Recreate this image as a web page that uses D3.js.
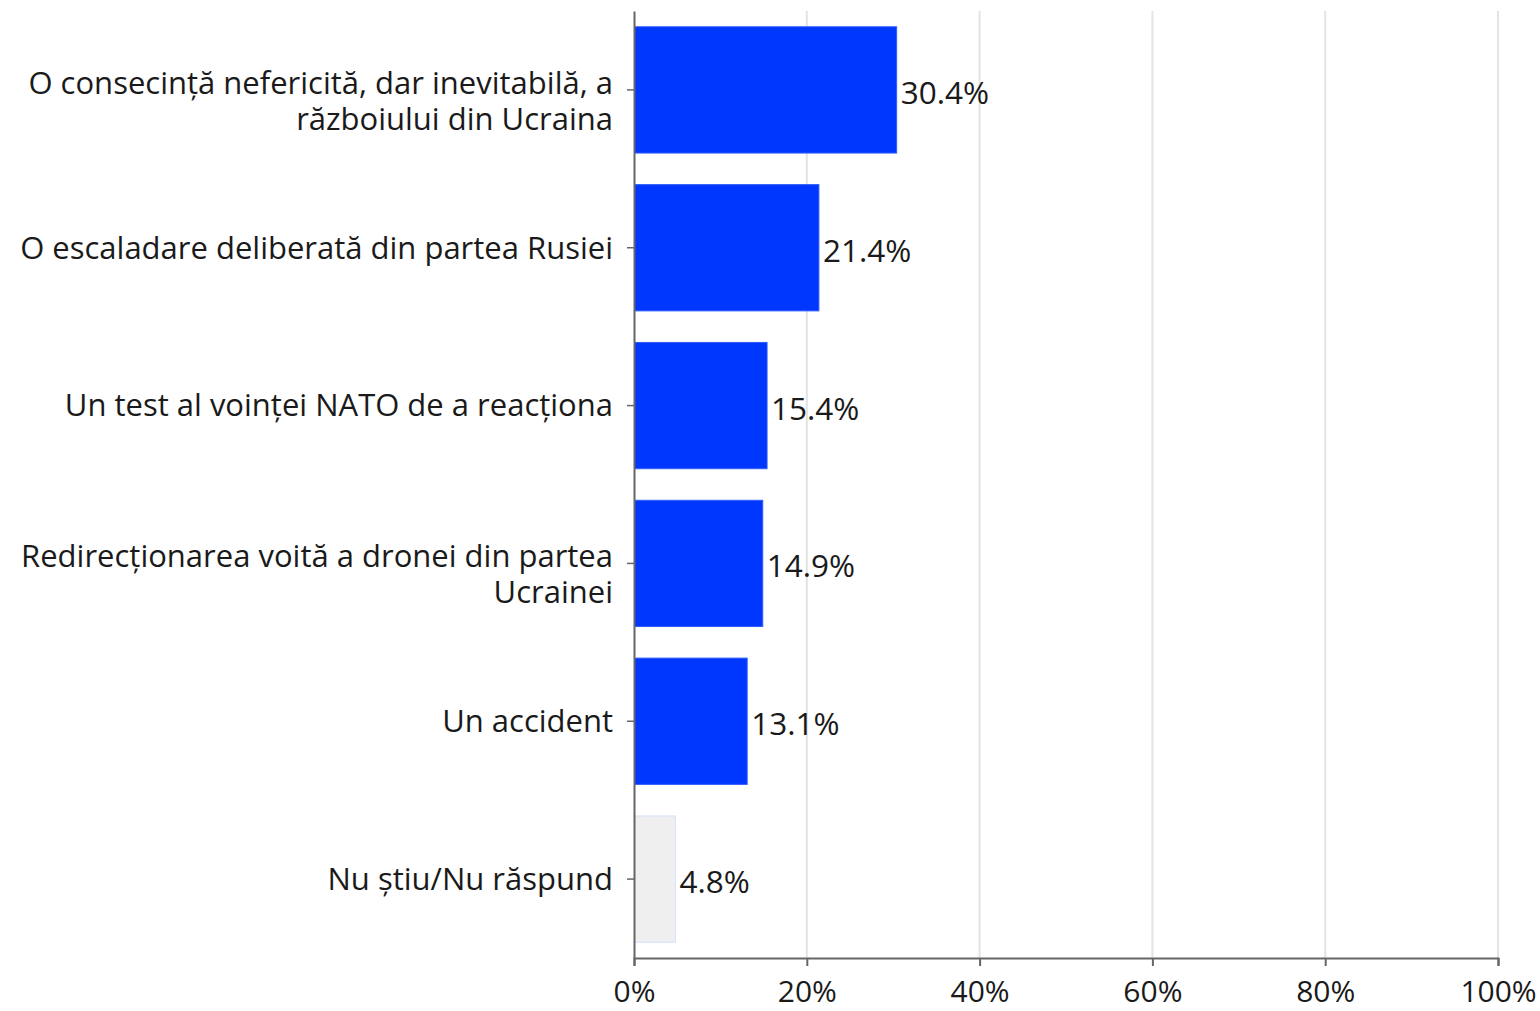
<!DOCTYPE html>
<html>
<head>
<meta charset="utf-8">
<script src="https://cdn.jsdelivr.net/npm/d3@7"></script>
<style>
  html, body { margin: 0; padding: 0; background: #ffffff; }
  svg { display: block; font-family: "Open Sans", sans-serif; }
</style>
</head>
<body>
<svg id="chart" width="1540" height="1011"></svg>
<script>
const categories = [
  ["O consecință nefericită, dar inevitabilă, a", "războiului din Ucraina"],
  ["O escaladare deliberată din partea Rusiei"],
  ["Un test al voinței NATO de a reacționa"],
  ["Redirecționarea voită a dronei din partea", "Ucrainei"],
  ["Un accident"],
  ["Nu știu/Nu răspund"]
];
const values = [30.4, 21.4, 15.4, 14.9, 13.1, 4.8];
const valueLabels = ["30.4%", "21.4%", "15.4%", "14.9%", "13.1%", "4.8%"];
const xTicks = [0, 20, 40, 60, 80, 100];
const xTickLabels = ["0%", "20%", "40%", "60%", "80%", "100%"];
const barColors = ["#0037ff", "#0037ff", "#0037ff", "#0037ff", "#0037ff", "#efefef"];
const barStrokes = ["#2f5cff", "#2f5cff", "#2f5cff", "#2f5cff", "#2f5cff", "#d6e0ff"];

const svg = d3.select("#chart");
const margin = { left: 634, right: 42, top: 11, bottom: 53 };
const W = 1540, H = 1011;
const innerW = W - margin.left - margin.right;
const innerH = H - margin.top - margin.bottom;
const FS = 31;

const idx = d3.range(categories.length);
const x = d3.scaleLinear().domain([0, 100]).range([0, innerW]);
const y = d3.scaleBand().domain(idx).range([0, innerH]).paddingInner(0.2).paddingOuter(0.1);

const g = svg.append("g").attr("transform", `translate(${margin.left},${margin.top})`);

// gridlines
g.append("g").selectAll("line").data(xTicks.slice(1)).join("line")
  .attr("x1", d => x(d)).attr("x2", d => x(d))
  .attr("y1", 0).attr("y2", innerH)
  .attr("stroke", "#e3e3e3").attr("stroke-width", 2);

// bars
g.append("g").selectAll("rect").data(idx).join("rect")
  .attr("x", 0.5)
  .attr("y", i => y(i))
  .attr("width", i => x(values[i]) - 0.5)
  .attr("height", y.bandwidth())
  .attr("fill", i => barColors[i])
  .attr("stroke", i => barStrokes[i])
  .attr("stroke-width", 1);

// value labels
g.append("g").selectAll("text").data(idx).join("text")
  .attr("x", i => x(values[i]) + 4)
  .attr("y", i => y(i) + y.bandwidth() / 2 + 3)
  .attr("dy", "0.35em")
  .attr("font-size", 31.5)
  .attr("fill", "#1a1a1a")
  .text(i => valueLabels[i]);

// x axis
const xAxis = d3.axisBottom(x).tickValues(xTicks).tickFormat((d, i) => xTickLabels[i]).tickSize(8).tickSizeOuter(8);
const xg = g.append("g").attr("transform", `translate(0,${innerH})`).call(xAxis);
xg.select(".domain").attr("stroke", "#666").attr("stroke-width", 2);
xg.selectAll(".tick line").attr("stroke", "#666").attr("stroke-width", 2);
xg.selectAll(".tick text").attr("font-size", 30).attr("fill", "#1a1a1a")
  .attr("font-family", "'Open Sans', sans-serif").attr("y", 44).attr("dy", null);

// y axis
const yAxis = d3.axisLeft(y).tickFormat("").tickSize(7).tickSizeOuter(0);
const yg = g.append("g").call(yAxis);
yg.select(".domain").attr("stroke", "#666").attr("stroke-width", 2);
yg.selectAll(".tick line").attr("stroke", "#666").attr("stroke-width", 1.5);

// category labels
const lab = g.append("g").selectAll("text").data(idx).join("text")
  .attr("text-anchor", "end")
  .attr("font-size", FS)
  .attr("fill", "#1a1a1a")
  .attr("transform", i => `translate(-21,${y(i) + y.bandwidth() / 2})`);
lab.each(function(i) {
  const lines = categories[i];
  const t = d3.select(this);
  const off = lines.length > 1 ? -7 : 0;
  lines.forEach((ln, k) => {
    t.append("tspan").attr("x", 0).attr("y", off + k * 36).attr("dy", "0.35em").text(ln);
  });
});
</script>
</body>
</html>
